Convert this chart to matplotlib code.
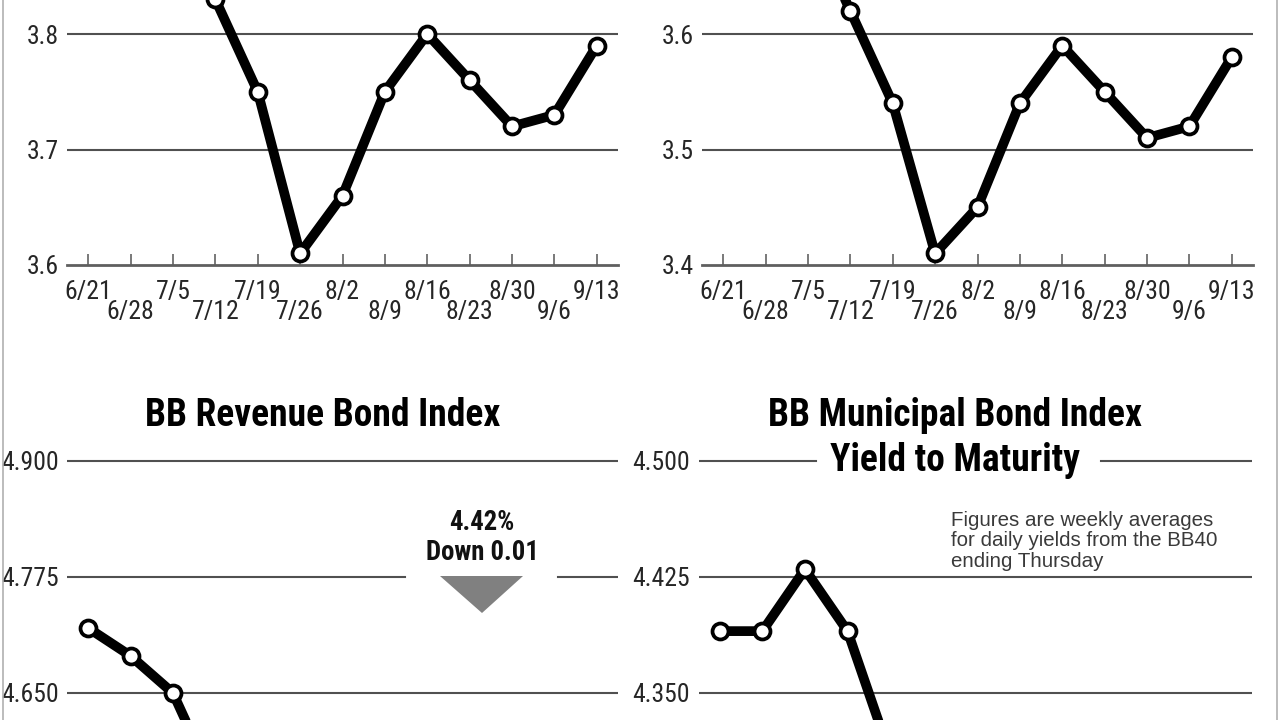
import numpy as np
import matplotlib.pyplot as plt
from matplotlib.patches import Polygon
from matplotlib.lines import Line2D

# weekly data (values off the top / bottom of the crop are estimates)
weeks = ['6/21', '6/28', '7/5', '7/12', '7/19', '7/26', '8/2',
         '8/9', '8/16', '8/23', '8/30', '9/6', '9/13']
top_left_yield = [3.87, 3.91, 3.90, 3.83, 3.75, 3.61, 3.66, 3.75, 3.80, 3.76, 3.72, 3.73, 3.79]
top_right_yield = [3.66, 3.72, 3.70, 3.62, 3.54, 3.41, 3.45, 3.54, 3.59, 3.55, 3.51, 3.52, 3.58]
revenue_yield = [4.72, 4.69, 4.65, 4.55, 4.48, 4.40, 4.44, 4.48, 4.52, 4.48, 4.44, 4.43, 4.42]
muni_yield = [4.39, 4.39, 4.43, 4.39, 4.31, 4.18, 4.21, 4.27, 4.31, 4.28, 4.24, 4.25, 4.30]

top_left_ticks = [3.6, 3.7, 3.8]
top_right_ticks = [3.4, 3.5, 3.6]
revenue_ticks = [4.650, 4.775, 4.900]
muni_ticks = [4.350, 4.425, 4.500]

NARROW = ['Roboto Condensed', 'Archivo Narrow', 'PT Sans Narrow', 'Open Sans Condensed', 'DejaVu Sans']
HEAD = ['Roboto Condensed', 'Open Sans Condensed', 'DejaVu Sans']
NOTE = ['Liberation Sans', 'DejaVu Sans']
LABEL_SIZE = 18.5
W, H = 1280, 720


def rect(left, top, right, bottom):
    return [left / W, 1 - bottom / H, (right - left) / W, (bottom - top) / H]


def fx(x):
    return x / W


def fy(y):
    return 1 - y / H


def fit_size(text, target_px, **kw):
    # font size that gives the text the wanted pixel width
    t = fig.text(0, 0, text, fontsize=20, **kw)
    w = t.get_window_extent(fig.canvas.get_renderer()).width
    t.remove()
    return 20 * target_px / w


def draw_series(ax, values):
    x = np.arange(len(values))
    ax.plot(x, values, color='black', lw=7, solid_joinstyle='round', solid_capstyle='round', zorder=3)
    ax.plot(x, values, ls='none', marker='o', ms=11.5, mfc='white', mec='black', mew=2.7, zorder=4)
    ax.set_xlim(-0.5, len(values) - 0.5)


def style_y(ax, ticks, fmt):
    ax.set_yticks(ticks)
    ax.set_yticklabels([fmt.format(t) for t in ticks], family=NARROW, fontsize=LABEL_SIZE, color='#262626')
    ax.tick_params(axis='y', length=0, pad=6)
    for s in ['top', 'right', 'left']:
        ax.spines[s].set_visible(False)


def style_x_dates(ax):
    ax.spines['bottom'].set_color('#5f5f5f')
    ax.spines['bottom'].set_linewidth(2)
    ax.set_xticks(np.arange(0, len(weeks), 2))
    ax.set_xticklabels(weeks[0::2], family=NARROW, fontsize=LABEL_SIZE, color='#262626')
    ax.set_xticks(np.arange(1, len(weeks), 2), minor=True)
    ax.set_xticklabels(weeks[1::2], minor=True, family=NARROW, fontsize=LABEL_SIZE, color='#262626')
    ax.tick_params(axis='x', which='major', direction='in', length=8, width=1.1, color='#555555', pad=11)
    ax.tick_params(axis='x', which='minor', direction='in', length=8, width=1.1, color='#555555', pad=25)


fig = plt.figure(figsize=(12.8, 7.2), dpi=100)

# top-left panel
ax1 = fig.add_axes(rect(67, 0, 618, 265))
draw_series(ax1, top_left_yield)
ax1.set_ylim(3.6, 3.6 + 265 / 1155)
style_y(ax1, top_left_ticks, '{:.1f}')
for t in top_left_ticks[1:]:
    ax1.axhline(t, color='#505050', lw=1.5, zorder=1)
style_x_dates(ax1)

# top-right panel
ax2 = fig.add_axes(rect(702, 0, 1253, 265))
draw_series(ax2, top_right_yield)
ax2.set_ylim(3.4, 3.4 + 265 / 1155)
style_y(ax2, top_right_ticks, '{:.1f}')
for t in top_right_ticks[1:]:
    ax2.axhline(t, color='#505050', lw=1.5, zorder=1)
style_x_dates(ax2)

# bottom-left: revenue bond index
ax3 = fig.add_axes(rect(67, 440, 618, 720))
draw_series(ax3, revenue_yield)
ax3.set_ylim(4.650 - 27 / 928, 4.650 + 253 / 928)
style_y(ax3, revenue_ticks, '{:.3f}')
ax3.axhline(revenue_ticks[0], color='#505050', lw=1.5, zorder=1)
ax3.axhline(revenue_ticks[2], color='#505050', lw=1.5, zorder=1)
ax3.axhline(revenue_ticks[1], xmin=0, xmax=0.613, color='#505050', lw=1.5, zorder=1)
ax3.axhline(revenue_ticks[1], xmin=0.891, xmax=1, color='#505050', lw=1.5, zorder=1)
ax3.spines['bottom'].set_visible(False)
ax3.set_xticks([])

# bottom-right: municipal bond index
ax4 = fig.add_axes(rect(698.5, 440, 1252, 720))
draw_series(ax4, muni_yield)
ax4.set_ylim(4.350 - 27 / 1547, 4.350 + 253 / 1547)
style_y(ax4, muni_ticks, '{:.3f}')
ax4.axhline(muni_ticks[0], color='#505050', lw=1.5, zorder=1)
ax4.axhline(muni_ticks[1], color='#505050', lw=1.5, zorder=1)
ax4.axhline(muni_ticks[2], xmin=0, xmax=0.212, color='#505050', lw=1.5, zorder=1)
ax4.axhline(muni_ticks[2], xmin=0.727, xmax=1, color='#505050', lw=1.5, zorder=1)
ax4.spines['bottom'].set_visible(False)
ax4.set_xticks([])

# titles
title_size = fit_size('BB Revenue Bond Index', 355, family=HEAD, weight='bold')
fig.text(fx(323), fy(416), 'BB Revenue Bond Index', family=HEAD, weight='bold',
         fontsize=title_size, ha='center', va='center', color='black')
fig.text(fx(955), fy(416), 'BB Municipal Bond Index', family=HEAD, weight='bold',
         fontsize=title_size, ha='center', va='center', color='black')
fig.text(fx(955), fy(461), 'Yield to Maturity', family=HEAD, weight='bold',
         fontsize=title_size, ha='center', va='center', color='black')

# latest value callout
call_size = fit_size('Down 0.01', 113, family=HEAD, weight='bold')
fig.text(fx(482), fy(523), '4.42%', family=HEAD, weight='bold', fontsize=call_size,
         ha='center', va='center', color='#111111')
fig.text(fx(482), fy(553), 'Down 0.01', family=HEAD, weight='bold', fontsize=call_size,
         ha='center', va='center', color='#111111')
fig.patches.append(Polygon([(fx(440), fy(576)), (fx(523), fy(576)), (fx(482), fy(613))],
                           closed=True, facecolor='#808080', edgecolor='none',
                           transform=fig.transFigure, figure=fig))

# note
note_size = fit_size('Figures are weekly averages', 261, family=NOTE)
fig.text(fx(951), fy(511), 'Figures are weekly averages\nfor daily yields from the BB40\nending Thursday',
         family=NOTE, fontsize=note_size, linespacing=1.1,
         ha='left', va='top', color='#3a3a3a')

# frame edges of the original graphic
fig.lines.append(Line2D([fx(2.5), fx(2.5)], [0, 1], color='#b0b0b0', lw=1.2, transform=fig.transFigure))
fig.lines.append(Line2D([fx(1277), fx(1277)], [0, 1], color='#b0b0b0', lw=1.2, transform=fig.transFigure))

fig.savefig('out.png', dpi=100, facecolor='white')
